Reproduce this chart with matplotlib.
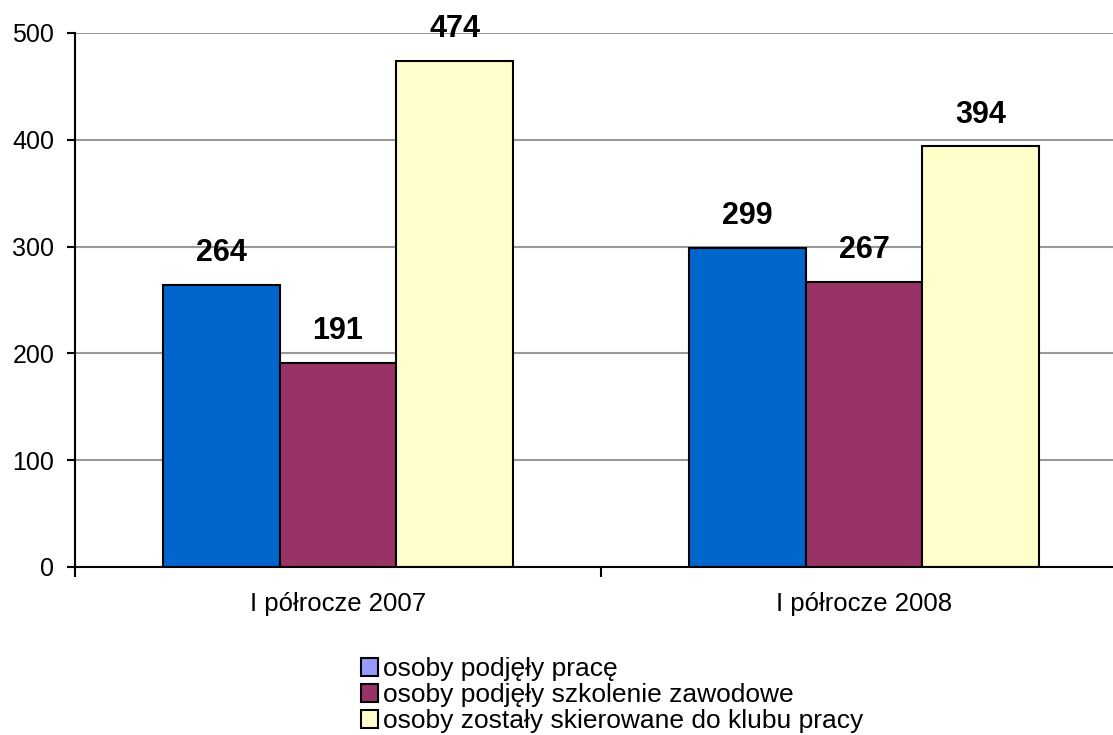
import matplotlib
matplotlib.use("Agg")
import matplotlib.pyplot as plt
from matplotlib.patches import Patch
import numpy as np

plt.rcParams['font.family'] = ['Liberation Sans', 'DejaVu Sans']

categories = ["I półrocze 2007", "I półrocze 2008"]
series_names = ["osoby podjęły pracę", "osoby podjęły szkolenie zawodowe",
                "osoby zostały skierowane do klubu pracy"]
values = [
    [264, 299],
    [191, 267],
    [474, 394],
]
bar_colors = ["#0066CC", "#993366", "#FFFFCC"]
legend_colors = ["#9999FF", "#993366", "#FFFFCC"]

W, H = 1113, 735
fig = plt.figure(figsize=(W / 100, H / 100), dpi=100)
ax = fig.add_axes([75 / W, 168 / H, 1052 / W, 534 / H])

x = np.arange(len(categories))
bw = 0.222
for i, (vals, c) in enumerate(zip(values, bar_colors)):
    pos = x + (i - 1) * bw
    bars = ax.bar(pos, vals, width=bw, color=c, edgecolor="black", linewidth=1.5, zorder=3)
    for b, v in zip(bars, vals):
        ax.annotate(str(v), (b.get_x() + b.get_width() / 2, v), xytext=(0, 12),
                    textcoords="offset points", ha="center", va="bottom",
                    fontsize=22, fontweight="bold", zorder=4)

ax.set_xlim(-0.5, len(categories) - 0.5)
ax.set_ylim(0, 500)
ax.set_yticks([0, 100, 200, 300, 400, 500])
ax.yaxis.grid(True, color="#999999", linewidth=1.5, zorder=0)
ax.tick_params(axis="y", direction="out", length=6, width=1.5, labelsize=18, pad=9)

ax.set_xticks(np.arange(-0.5, len(categories)), labels=[])
ax.set_xticks(x, labels=categories, minor=True)
ax.tick_params(axis="x", which="major", direction="out", length=7, width=1.5)
ax.tick_params(axis="x", which="minor", length=0, labelsize=18.5, pad=18)

for s in ["top", "right"]:
    ax.spines[s].set_visible(False)
for s in ["left", "bottom"]:
    ax.spines[s].set_linewidth(1.5)
    ax.spines[s].set_zorder(5)

handles = [Patch(facecolor=c, edgecolor="black", linewidth=1.5) for c in legend_colors]
fig.legend(handles, series_names, loc="upper left", bbox_to_anchor=(361 / W, 1 - 657 / H),
           frameon=False, fontsize=19, handlelength=0.65, handleheight=0.65,
           handletextpad=0.2, labelspacing=0.08, borderpad=0, borderaxespad=0)

fig.savefig("out.png", dpi=100)
